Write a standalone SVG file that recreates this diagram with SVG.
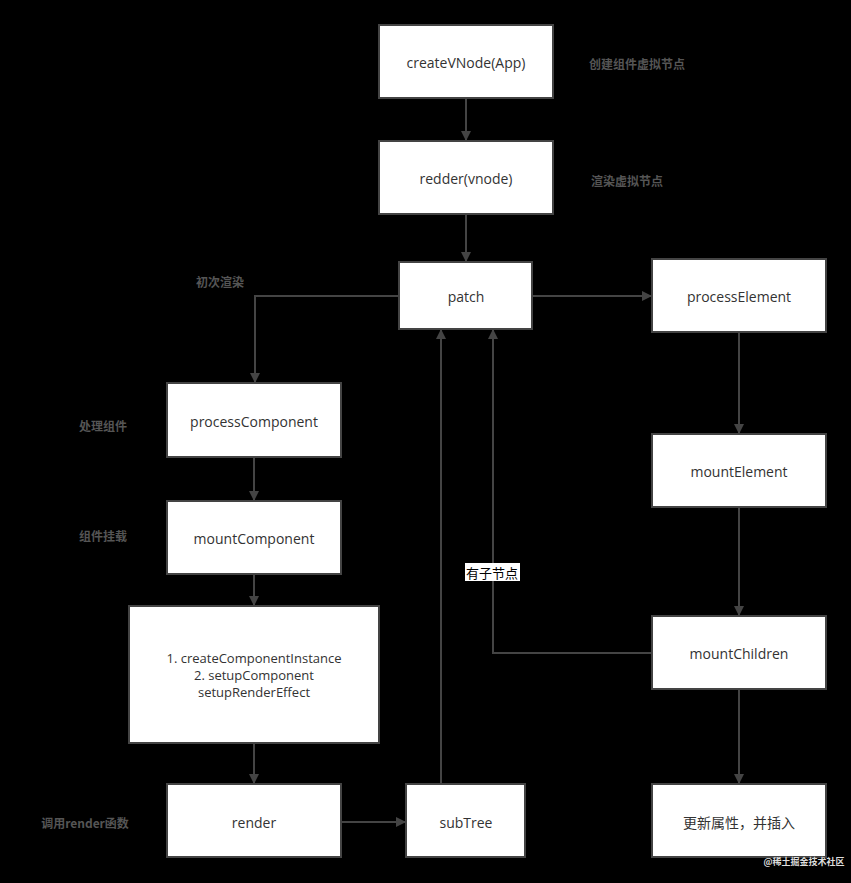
<svg xmlns="http://www.w3.org/2000/svg" width="851" height="883" viewBox="0 0 851 883">
<style>
.n{fill:#fff;stroke:#444;stroke-width:2}
.t{font-family:"Open Sans","Noto Sans CJK SC",sans-serif;font-size:14px;fill:#333;text-anchor:middle;dominant-baseline:central}
.s{font-size:13px}
.l{font-family:"Noto Sans CJK SC",sans-serif;font-size:12px;fill:#555;font-weight:bold;text-anchor:middle;dominant-baseline:central}
.c{fill:none;stroke:#444;stroke-width:2;marker-end:url(#a)}
</style>
<defs><marker id="a" viewBox="0 0 10 10" refX="9" refY="5" markerWidth="5" markerHeight="5" orient="auto"><path d="M0,0L10,5L0,10z" fill="#444"/></marker></defs>
<rect width="851" height="883" fill="#000"/>
<g id="connectors">
<path class="c" d="M466,98V140"/>
<path class="c" d="M466,214V261"/>
<path class="c" d="M399,296H255V382"/>
<path class="c" d="M532,296H651"/>
<path class="c" d="M254,457V500"/>
<path class="c" d="M254,574V605"/>
<path class="c" d="M254,743V783"/>
<path class="c" d="M341,822H405"/>
<path class="c" d="M441,784V330"/>
<path class="c" d="M652,653H493V330"/>
<path class="c" d="M739,332V433"/>
<path class="c" d="M739,507V615"/>
<path class="c" d="M739,689V783"/>
<rect x="465" y="563" width="55" height="18" fill="#fff"/>
<text class="t" x="492" y="572" style="font-size:13px;fill:#000;font-family:'Noto Sans CJK SC',sans-serif">有子节点</text>
</g>
<g id="createVNode"><rect class="n" x="379" y="25" width="174" height="73"/><text class="t" x="466" y="62">createVNode(App)</text></g>
<g id="redder"><rect class="n" x="379" y="141" width="174" height="73"/><text class="t" x="466" y="178">redder(vnode)</text></g>
<g id="patch"><rect class="n" x="399" y="262" width="133" height="67"/><text class="t" x="466" y="296">patch</text></g>
<g id="processElement"><rect class="n" x="652" y="259" width="174" height="73"/><text class="t" x="739" y="296">processElement</text></g>
<g id="processComponent"><rect class="n" x="167" y="383" width="174" height="74"/><text class="t" x="254" y="421">processComponent</text></g>
<g id="mountComponent"><rect class="n" x="167" y="501" width="174" height="73"/><text class="t" x="254" y="538">mountComponent</text></g>
<g id="mountElement"><rect class="n" x="652" y="434" width="174" height="73"/><text class="t" x="739" y="471">mountElement</text></g>
<g id="mountChildren"><rect class="n" x="652" y="616" width="174" height="73"/><text class="t" x="739" y="653">mountChildren</text></g>
<g id="setup"><rect class="n" x="129" y="606" width="250" height="137"/><text class="t s" x="254" y="658">1. createComponentInstance</text><text class="t s" x="254" y="675">2. setupComponent</text><text class="t s" x="254" y="692">setupRenderEffect</text></g>
<g id="render"><rect class="n" x="167" y="784" width="174" height="73"/><text class="t" x="254" y="822">render</text></g>
<g id="subTree"><rect class="n" x="406" y="784" width="119" height="73"/><text class="t" x="466" y="822">subTree</text></g>
<g id="update"><rect class="n" x="652" y="784" width="174" height="73"/><text class="t" x="739" y="822">更新属性，并插入</text></g>
<g id="labels">
<text class="l" x="637" y="63">创建组件虚拟节点</text>
<text class="l" x="627" y="180">渲染虚拟节点</text>
<text class="l" x="220" y="281">初次渲染</text>
<text class="l" x="103" y="425">处理组件</text>
<text class="l" x="103" y="535">组件挂载</text>
<text class="l" x="85" y="822">调用render函数</text>
<text class="l" x="804" y="861" style="font-size:9px;fill:#ddd">@稀土掘金技术社区</text>
</g>
</svg>
